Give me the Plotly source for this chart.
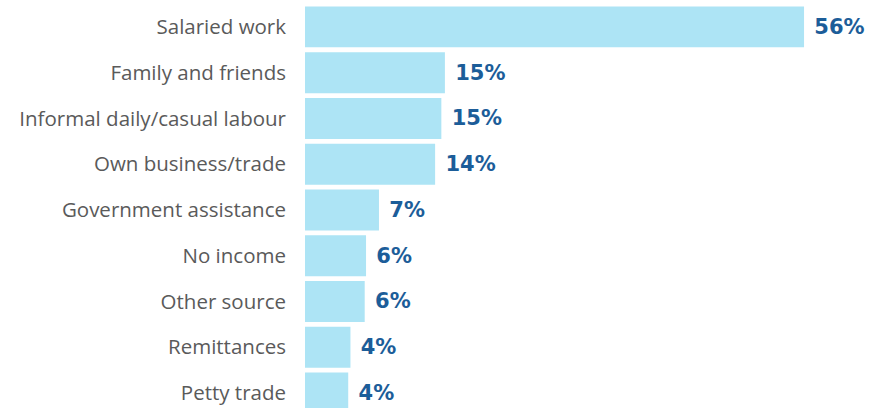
import plotly.graph_objects as go

categories = [
    "Salaried work",
    "Family and friends",
    "Informal daily/casual labour",
    "Own business/trade",
    "Government assistance",
    "No income",
    "Other source",
    "Remittances",
    "Petty trade",
]
# bar lengths as drawn in the picture (percent scale)
values = [56.0, 15.7, 15.3, 14.6, 8.3, 6.85, 6.7, 5.1, 4.85]
value_labels = ["56%", "15%", "15%", "14%", "7%", "6%", "6%", "4%", "4%"]

BAR_COLOR = "#ade4f5"
LABEL_COLOR = "#1c5d99"
CAT_COLOR = "#5a5a5a"

fig = go.Figure(
    go.Bar(
        x=values,
        y=categories,
        orientation="h",
        marker=dict(color=BAR_COLOR, line=dict(width=0)),
        text=["\u00a0" + t for t in value_labels],
        textposition="outside",
        constraintext="none",
        cliponaxis=False,
        textfont=dict(family="DejaVu Sans", size=21, color=LABEL_COLOR, weight="bold"),
        hoverinfo="skip",
    )
)

fig.update_layout(
    width=883,
    height=408,
    margin=dict(l=305, r=0, t=4, b=0),
    paper_bgcolor="white",
    plot_bgcolor="white",
    bargap=0.104,
    showlegend=False,
    xaxis=dict(
        range=[0, 64.86],
        visible=False,
        showgrid=False,
        zeroline=False,
        fixedrange=True,
    ),
    yaxis=dict(
        range=[8.33, -0.5],
        showgrid=False,
        zeroline=False,
        showline=False,
        ticks="",
        ticklabelstandoff=18,
        automargin=False,
        tickfont=dict(family="Open Sans", size=20.5, color=CAT_COLOR),
        fixedrange=True,
    ),
)

fig.write_html(
    "out.html",
    config={"displayModeBar": False},
    post_script="document.body.style.margin='0';document.body.style.overflow='hidden';",
)
